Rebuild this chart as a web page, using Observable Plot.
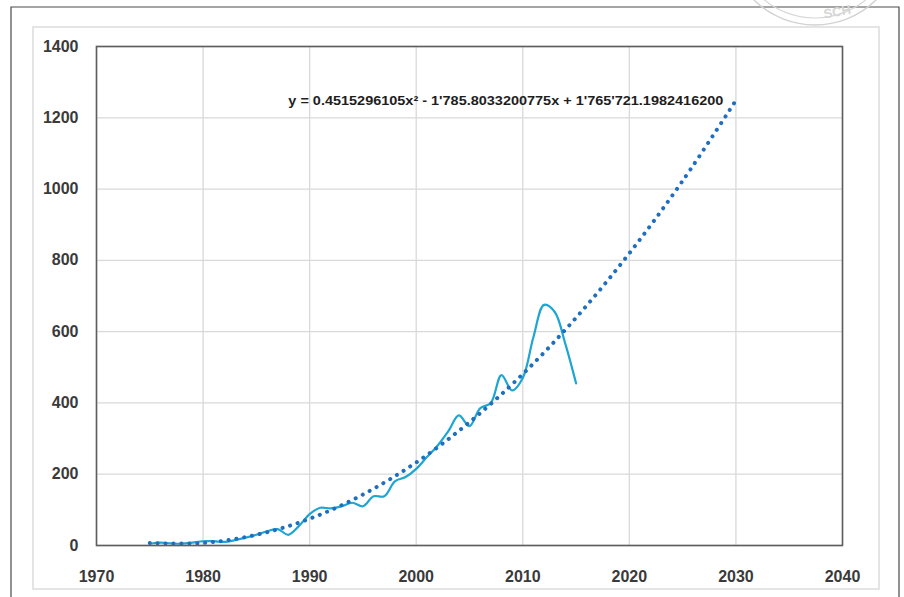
<!DOCTYPE html>
<html>
<head>
<meta charset="utf-8">
<script src="https://cdn.jsdelivr.net/npm/d3@7"></script>
<script src="https://cdn.jsdelivr.net/npm/@observablehq/plot@0.6"></script>
<style>
  html, body { margin: 0; padding: 0; background: #fff; }
  #chart { width: 904px; height: 597px; overflow: hidden; }
</style>
</head>
<body>
<div id="chart"></div>
<script>
// Observed series (solid cyan line)
const years = [1975,1976,1977,1978,1979,1980,1981,1982,1983,1984,1985,1986,1987,1988,1989,1990,1991,1992,1993,1994,1995,1996,1997,1998,1999,2000,2001,2002,2003,2004,2005,2006,2007,2008,2009,2010,2011,2012,2013,2014,2015];
const values = [5,8,6,5,8,12,12,10,15,22,30,40,46,30,55,88,106,104,110,120,110,138,138,180,192,215,248,280,320,365,335,385,400,478,435,470,585,675,655,565,455];

// Polynomial trend line (dotted)
const trendYears = [1975,1980,1985,1990,1995,2000,2005,2010,2015,2020,2025,2030];
const trendValues = [7,7,30,75,143,233,346,481,639,820,1023,1249];

// Axis ticks
const xTicks = [1970,1980,1990,2000,2010,2020,2030,2040];
const yTicks = [0,200,400,600,800,1000,1200,1400];

// Trendline equation label
const equationText = ["y = 0.4515296105x\u00B2 - 1'785.8033200775x + 1'765'721.1982416200"];
const equationX = [1988];
const equationY = [1248];

const observed = years.map((y, i) => ({year: y, value: values[i]}));
const trend = trendYears.map((y, i) => ({year: y, value: trendValues[i]}));
const labels = equationText.map((t, i) => ({text: t, x: equationX[i], y: equationY[i]}));

const plot = Plot.plot({
  width: 904,
  height: 597,
  marginTop: 46,
  marginLeft: 96,
  marginRight: 62,
  marginBottom: 52,
  style: {fontFamily: "'Liberation Sans', Arial, sans-serif", fontSize: "16px", fontWeight: "bold", color: "#3a3a3a", background: "transparent"},
  x: {domain: [1970, 2040]},
  y: {domain: [0, 1400]},
  marks: [
    Plot.gridX(xTicks, {stroke: "#d9d9d9", strokeOpacity: 1, strokeWidth: 1.3}),
    Plot.gridY(yTicks, {stroke: "#d9d9d9", strokeOpacity: 1, strokeWidth: 1.3}),
    Plot.axisX({ticks: xTicks, tickSize: 0, tickPadding: 25, tickFormat: d => String(d), label: null, fill: "#3a3a3a"}),
    Plot.axisY({ticks: yTicks, tickSize: 0, tickPadding: 18, tickFormat: d => String(d), label: null, fill: "#3a3a3a"}),
    Plot.line(observed, {x: "year", y: "value", stroke: "#1ea5d2", strokeWidth: 2.2, curve: "catmull-rom"}),
    Plot.line(trend, {x: "year", y: "value", stroke: "#1f6fc0", strokeWidth: 4, strokeDasharray: "0.1,7.8", strokeLinecap: "round", curve: "catmull-rom"}),
    Plot.frame({stroke: "#5e5e5e", strokeWidth: 1.6}),
    Plot.text(labels, {x: "x", y: "y", text: "text", textAnchor: "start", fontSize: 13, fontWeight: "bold", fill: "#1e1e1e"})
  ]
});

document.getElementById("chart").appendChild(plot);

// Page decoration (outer borders, light panel, watermark stamp)
const svg = d3.select(plot);
const deco = svg.insert("g", ":first-child").attr("class", "decoration");
deco.append("rect").attr("x", 33).attr("y", 27).attr("width", 846).attr("height", 562)
  .attr("fill", "none").attr("stroke", "#e4e4e4").attr("stroke-width", 2);
deco.append("path").attr("d", "M11,597 L11,7 L899,7 L899,597")
  .attr("fill", "none").attr("stroke", "#4a4a4a").attr("stroke-width", 1.2);
deco.append("circle").attr("cx", 815).attr("cy", -62).attr("r", 87)
  .attr("fill", "none").attr("stroke", "#d2d2d2").attr("stroke-width", 1.5);
deco.append("circle").attr("cx", 815).attr("cy", -62).attr("r", 80)
  .attr("fill", "none").attr("stroke", "#d8d8d8").attr("stroke-width", 1.2);
deco.append("text").attr("x", 838).attr("y", 16).attr("text-anchor", "middle")
  .attr("font-size", 13).attr("font-weight", "bold").attr("fill", "#d6d6d6")
  .attr("transform", "rotate(-10,838,16)").text("SCH");

// Stretch equation text to the width seen in the reference
svg.selectAll("g[aria-label='text'] text").attr("textLength", 435).attr("lengthAdjust", "spacingAndGlyphs");
</script>
</body>
</html>
